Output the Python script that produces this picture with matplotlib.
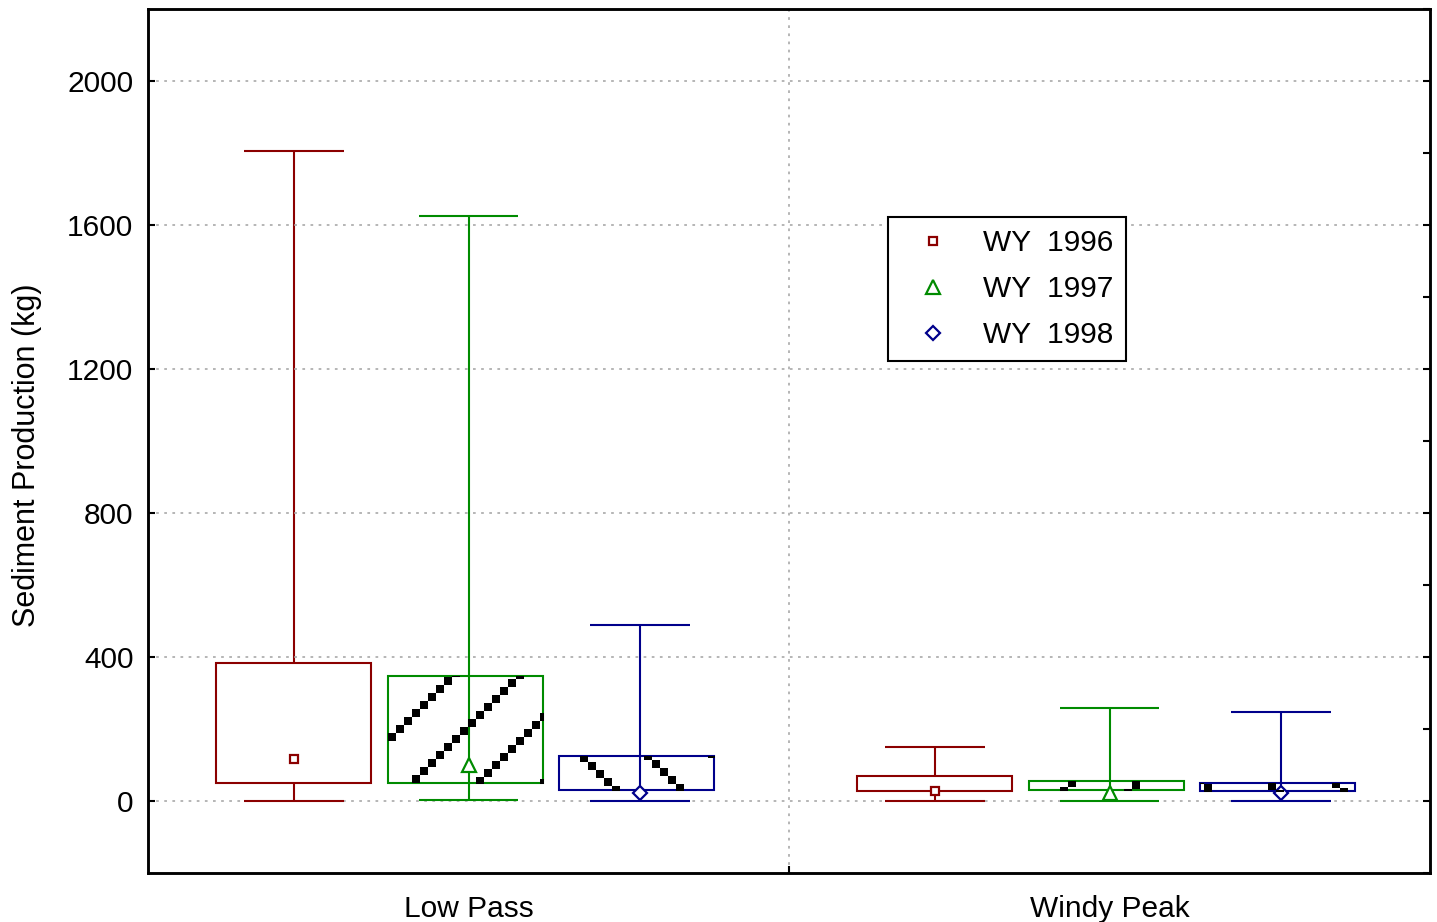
import matplotlib.pyplot as plt
from matplotlib.patches import Rectangle
from matplotlib.lines import Line2D
import numpy as np

sites = ["Low Pass", "Windy Peak"]
years = ["WY  1996", "WY  1997", "WY  1998"]
colors = ["#8b0000", "#008b00", "#00008b"]
markers = ["s", "^", "D"]
hatches = [None, "/", "\\"]

# per year, values for [Low Pass, Windy Peak]
whisker_low = [[0, 0], [3, 0], [0, 0]]
box_low = [[50, 28], [50, 31], [31, 28]]
center = [[117, 28], [100, 22], [22, 22]]
box_high = [[383, 69], [347, 56], [125, 50]]
whisker_high = [[1806, 150], [1625, 258], [489, 247]]

whisker_pos = [-0.273, 0.0, 0.267]
box_pos = [-0.273, -0.004, 0.262]
box_w = 0.242
cap_w = 0.156
marker_size = [5.5, 9.5, 7.5]

plt.rcParams['font.family'] = ['Liberation Sans', 'DejaVu Sans']
plt.rcParams['font.size'] = 21.5

fig = plt.figure(figsize=(14.37, 9.22), dpi=100)
ax = fig.add_axes([148 / 1437, 49 / 922, 1282 / 1437, 864 / 922])
ax.set_xlim(0.5, 2.5)
ax.set_ylim(-200, 2200)


def hatch_box(rect, direction, color="black"):
    # dotted diagonal hatch drawn in pixels, clipped to the box
    fig.canvas.draw()
    (px0, py0), (px1, py1) = ax.transData.transform(
        [(rect.get_x(), rect.get_y()),
         (rect.get_x() + rect.get_width(), rect.get_y() + rect.get_height())])
    spacing, step = 66, 8
    phase = 57 if direction > 0 else 22
    xs = np.arange(np.floor(px0 / step) * step, px1 + step, step)
    for k in range(-60, 60):
        c = phase + k * spacing
        ys = xs + c if direction > 0 else c - xs
        keep = (ys >= py0 - 4) & (ys <= py1 + 4)
        if not keep.any():
            continue
        ln = Line2D(xs[keep], ys[keep], linestyle="none", marker="s",
                    markersize=5.4, markeredgewidth=0, color=color,
                    transform=None, zorder=3)
        fig.add_artist(ln)
        ln.set_clip_path(rect)


for i in range(len(years)):
    for j in range(len(sites)):
        x = j + 1 + box_pos[i]
        wx = j + 1 + whisker_pos[i]
        c = colors[i]
        through = hatches[i] is not None
        ax.vlines(wx, whisker_low[i][j], whisker_high[i][j], color=c, lw=1.5,
                  zorder=4 if through else 1)
        ax.hlines([whisker_low[i][j], whisker_high[i][j]], wx - cap_w / 2, wx + cap_w / 2,
                  color=c, lw=1.5, zorder=4)
        h = box_high[i][j] - box_low[i][j]
        rect = Rectangle((x - box_w / 2, box_low[i][j]), box_w, h,
                         facecolor="white", edgecolor="none", zorder=2)
        ax.add_patch(rect)
        ax.add_patch(Rectangle((x - box_w / 2, box_low[i][j]), box_w, h,
                               facecolor="none", edgecolor=c, lw=1.5, zorder=4))
        if through:
            hatch_box(rect, 1 if hatches[i] == "/" else -1)
        ax.plot(wx, center[i][j], marker=markers[i], color=c, mfc="white",
                mew=1.6, ms=marker_size[i], zorder=5)

ax.set_yticks(range(0, 2001, 400))
ax.set_xticks([1, 2], sites)
ax.set_xticks([1.5], minor=True)
ax.tick_params(axis="y", which="major", direction="in", length=5, width=1.5, pad=10.5)
ax.tick_params(axis="x", which="major", length=0, pad=15.5)
ax.tick_params(axis="x", which="minor", direction="in", length=5, width=1.5)
ax.grid(True, axis="y", which="major", color="#b0b0b0", linestyle=(0, (1.5, 3)), lw=1.3)
ax.grid(True, axis="x", which="minor", color="#b0b0b0", linestyle=(0, (1.5, 3)), lw=1.3)

right = ax.twinx()
right.set_ylim(ax.get_ylim())
right.set_yticks(range(-200, 2201, 200))
right.tick_params(axis="y", direction="in", length=5, width=1.5, labelright=False)

for a in (ax, right):
    for s in a.spines.values():
        s.set_linewidth(1.8)

ax.set_ylabel("Sediment Production (kg)", fontsize=22)
ax.yaxis.set_label_coords(-0.083, 0.484)

handles = [Line2D([], [], linestyle="none", marker=markers[i], color=colors[i],
                  mfc="white", mew=1.6, ms=marker_size[i]) for i in range(len(years))]
leg = ax.legend(handles, years, loc="upper left", bbox_to_anchor=(0.577, 0.759),
                borderaxespad=0, frameon=True, fancybox=False, framealpha=1,
                edgecolor="black", handlelength=2.2, handletextpad=0.6,
                borderpad=0.4, labelspacing=0.6, fontsize=21.5)
leg.get_frame().set_linewidth(1.5)
leg.set_zorder(10)

fig.savefig("out.png", dpi=100)
